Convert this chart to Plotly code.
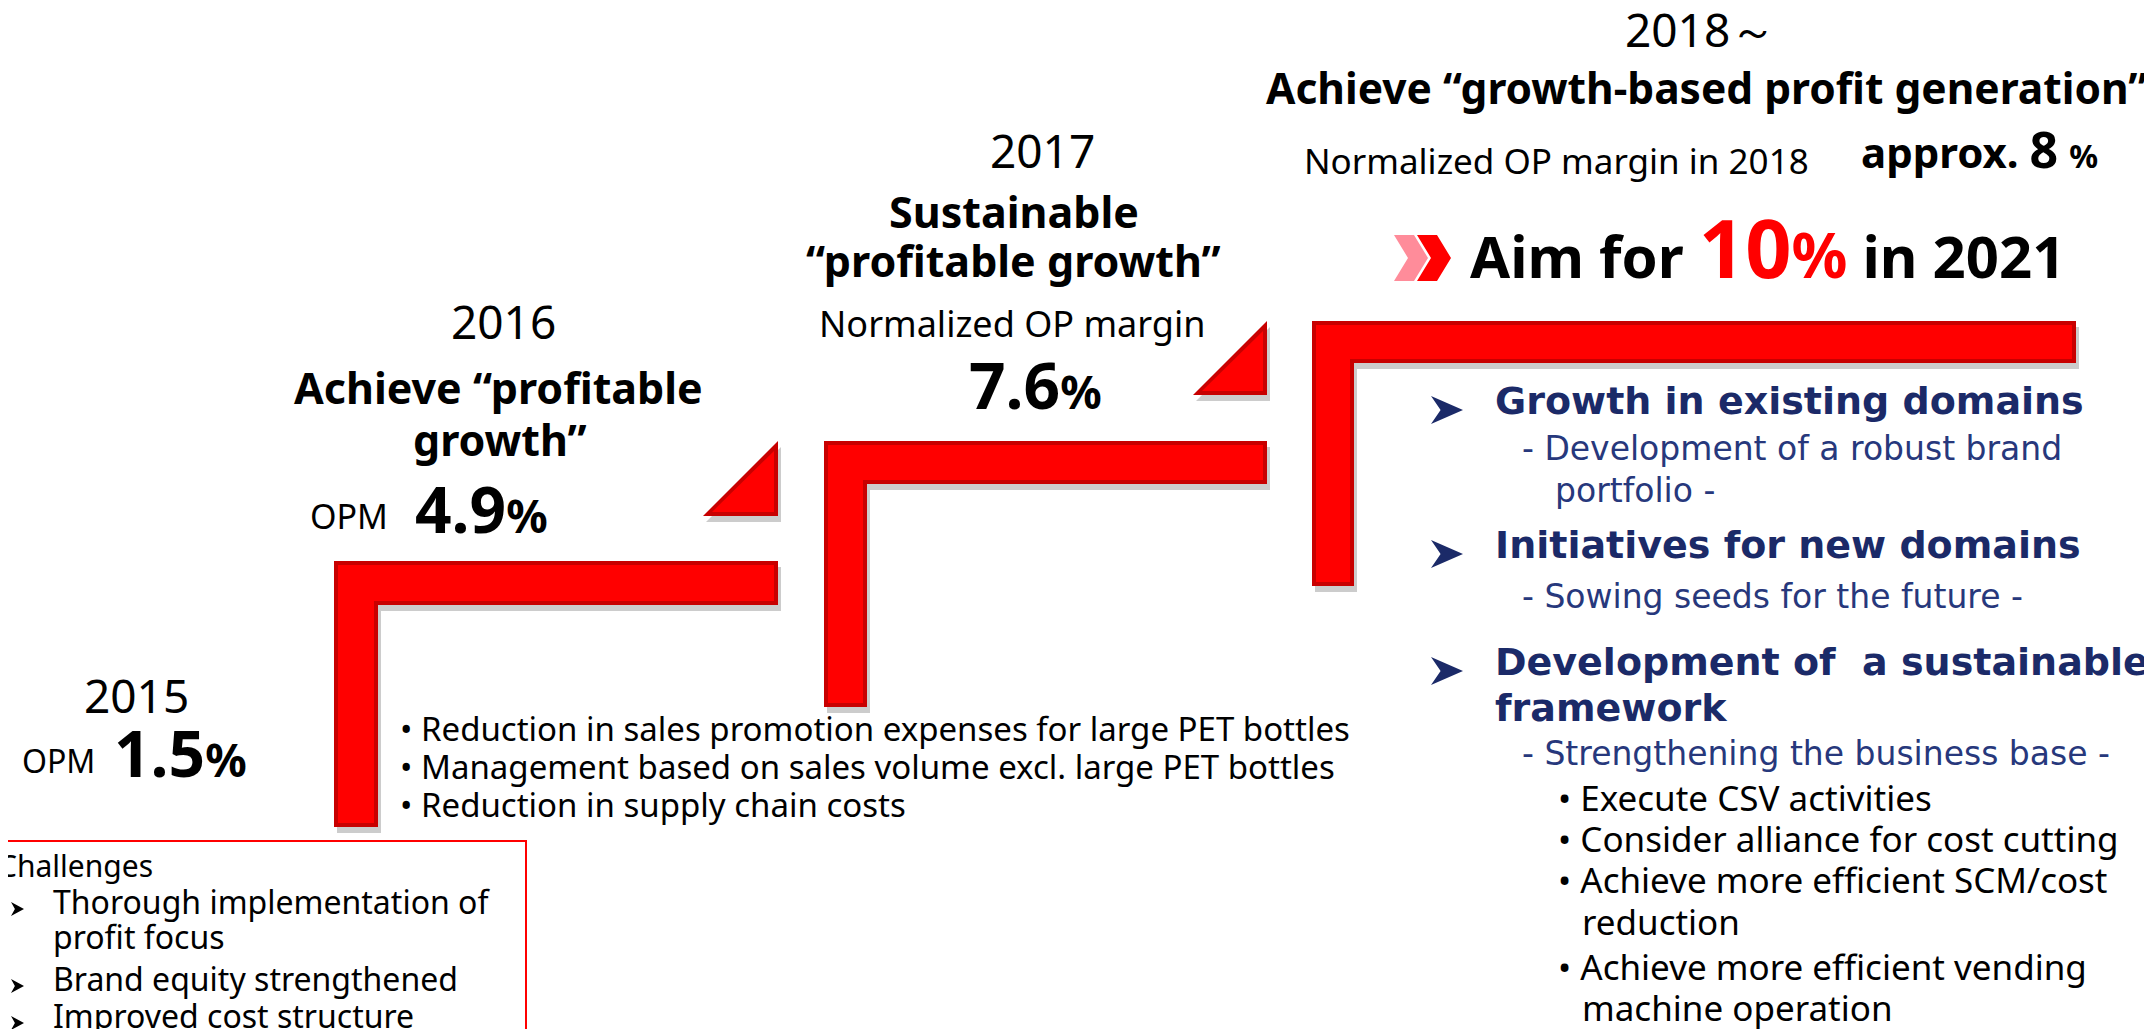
import plotly.graph_objects as go

W, H = 2152, 1029

# ---------------- data ----------------
years = ["2015", "2016", "2017", "2018～"]
margin_labels = ["OPM", "OPM", "Normalized OP margin", "Normalized OP margin in 2018"]
margin_values = ["1.5", "4.9", "7.6", "8"]
title_2016 = ["Achieve “profitable", "growth”"]
title_2017 = ["Sustainable", "“profitable growth”"]
title_2018 = "Achieve “growth-based profit generation”"
target_value = "10"
target_year = "2021"
measures_2016 = ["Reduction in sales promotion expenses for large PET bottles",
                 "Management based on sales volume excl. large PET bottles",
                 "Reduction in supply chain costs"]
challenges_title = "Challenges"
challenges = [["Thorough implementation of", "profit focus"], ["Brand equity strengthened"],
              ["Improved cost structure"]]
pillars = [["Growth in existing domains"], ["Initiatives for new domains"],
           ["Development of  a sustainable", "framework"]]
pillar_subs = [["- Development of a robust brand", "portfolio -"], ["- Sowing seeds for the future -"],
               ["- Strengthening the business base -"]]
framework_items = [["Execute CSV activities"], ["Consider alliance for cost cutting"],
                   ["Achieve more efficient SCM/cost", "reduction"],
                   ["Achieve more efficient vending", "machine operation"]]

# ---------------- styling / geometry ----------------
RED = "#FF0000"
DARKRED = "#C80000"
NAVY = "#1b2a68"
NAVY2 = "#27387c"
FONT = "Noto Sans"
HFONT = "DejaVu Sans"
K = 0.6  # baseline -> annotation middle offset factor

steps = [  # x0, x1, ytop, ybot, thickness
    (326, 770, 553, 819, 44),
    (816, 1259, 433, 699, 43),
    (1304, 2068, 313, 578, 42),
]
triangles = [(695, 770, 433, 508), (1185, 1259, 313, 387)]

fig = go.Figure()
fig.add_trace(go.Scatter(x=[0], y=[0], mode="markers", marker=dict(opacity=0), hoverinfo="skip",
                         showlegend=False))
shapes = []


def lpath(x0, x1, yt, yb, t, d=0):
    return (f"M {x0+d},{yt+d} L {x1-d},{yt+d} L {x1-d},{yt+t-d} L {x0+t-d},{yt+t-d} "
            f"L {x0+t-d},{yb-d} L {x0+d},{yb-d} Z")


for (x0, x1, yt, yb, t) in steps:
    shapes.append(dict(type="path", path=lpath(x0 + 3, x1 + 3, yt + 6, yb + 6, t),
                       fillcolor="rgba(0,0,0,0.20)", line=dict(width=0), layer="above"))
    shapes.append(dict(type="path", path=lpath(x0, x1, yt, yb, t), fillcolor=DARKRED,
                       line=dict(width=0), layer="above"))
    shapes.append(dict(type="path", path=lpath(x0, x1, yt, yb, t, 4), fillcolor=RED,
                       line=dict(width=0), layer="above"))

for (xa, xb, ya, yb) in triangles:
    shapes.append(dict(type="path", path=f"M {xa+3},{yb+6} L {xb+3},{yb+6} L {xb+3},{ya+6} Z",
                       fillcolor="rgba(0,0,0,0.20)", line=dict(width=0), layer="above"))
    shapes.append(dict(type="path", path=f"M {xa},{yb} L {xb},{yb} L {xb},{ya} Z",
                       fillcolor=DARKRED, line=dict(width=0), layer="above"))
    shapes.append(dict(type="path", path=f"M {xa+9},{yb-4} L {xb-4},{yb-4} L {xb-4},{ya+10} Z",
                       fillcolor=RED, line=dict(width=0), layer="above"))


def chevron(x, y0, y1, w, k, color):
    ym = (y0 + y1) / 2
    return dict(type="path",
                path=f"M {x},{y0} L {x+k},{y0} L {x+w},{ym} L {x+k},{y1} L {x},{y1} L {x+w-k},{ym} Z",
                fillcolor=color, line=dict(width=0), layer="above")


shapes.append(chevron(1386, 227, 273, 34, 20, "#FF8C9A"))
shapes.append(chevron(1409, 227, 273, 34, 20, "#FF0000"))


def arrowhead(x, yc, w, h, color):
    return dict(type="path",
                path=f"M {x},{yc-h/2} L {x+w},{yc} L {x},{yc+h/2} L {x+w*0.3},{yc} Z",
                fillcolor=color, line=dict(width=0), layer="above")


shapes.append(dict(type="rect", x0=-10, x1=518, y0=833, y1=1045, line=dict(color="#FF0000", width=2),
                   fillcolor="rgba(0,0,0,0)", layer="above"))

ann = []


def line(x, base, s, size, color="black", bold=False, family=FONT, xa="center", xshift=0):
    if bold:
        s = f"<b>{s}</b>"
    ann.append(dict(x=x, y=base - K * size, text=s, showarrow=False, xanchor=xa, yanchor="middle",
                    xshift=xshift, font=dict(size=size, color=color, family=family)))


def pct(val, vs, ps):
    return (f"<b><span style='font-size:{vs}px'>{val}</span>"
            f"<span style='font-size:{ps}px'>%</span></b>")


# 2015
line(128, 715, years[0], 46)
line(12, 772, margin_labels[0], 32, xa="left")
line(104, 772, pct(margin_values[0], 64, 46), 46, xa="left")
# 2016
line(495, 341, years[1], 46)
line(490, 405, title_2016[0], 43, bold=True)
line(492, 457, title_2016[1], 43, bold=True)
line(300, 528, margin_labels[1], 34, xa="left")
line(405, 528, pct(margin_values[1], 64, 46), 46, xa="left")
# 2017
line(1034, 170, years[2], 46)
line(1006, 229, title_2017[0], 43, bold=True)
line(1005, 278, title_2017[1], 43, bold=True)
line(1004, 337, margin_labels[2], 36)
line(1027, 404, pct(margin_values[2], 64, 46), 46)
# 2018~
line(1692, 49, years[3], 46)
line(1698, 105, title_2018, 42.5, bold=True)
line(1294, 173, margin_labels[3], 35, xa="left")
line(1851, 166, "<b>approx. <span style='font-size:50px'>" + margin_values[3] +
     "</span> <span style='font-size:32px'>%</span></b>", 42, xa="left")
line(1460, 273, f"<b>Aim for <span style='color:#FF0000'><span style='font-size:81px'>{target_value}</span>"
     f"<span style='font-size:62px'>%</span></span> in {target_year}</b>", 58, xa="left")

# 2016 measures
for i, m in enumerate(measures_2016):
    line(390, 740 + i * 38, "• " + m, 33, xa="left")

# Challenges
line(0, 875, challenges_title, 30, xa="left", xshift=-12)
cb = [[913, 948], [990], [1027]]
for lines_, bases in zip(challenges, cb):
    for t_, b in zip(lines_, bases):
        line(43, b, t_, 32, xa="left")
    shapes.append(arrowhead(3, bases[0] - 12, 13, 14, "black"))

# right panel
pb = [[416], [560], [677, 723]]
for lines_, bases in zip(pillars, pb):
    for t_, b in zip(lines_, bases):
        line(1485, b, t_, 38, color=NAVY, bold=True, family=HFONT, xa="left")
    shapes.append(arrowhead(1423, bases[0] - 14, 32, 28, NAVY))
sb = [[460, 502], [608], [765]]
for lines_, bases in zip(pillar_subs, sb):
    for j, (t_, b) in enumerate(zip(lines_, bases)):
        line(1512 if j == 0 else 1545, b, t_, 33, color=NAVY2, family=HFONT, xa="left")
fb = [[810], [851], [892, 934], [979, 1020]]
for lines_, bases in zip(framework_items, fb):
    for j, (t_, b) in enumerate(zip(lines_, bases)):
        if j == 0:
            line(1548, b, "• " + t_, 35, xa="left")
        else:
            line(1572, b, t_, 35, xa="left")

fig.update_layout(
    width=W, height=H, margin=dict(l=0, r=0, t=0, b=0),
    paper_bgcolor="white", plot_bgcolor="white",
    xaxis=dict(range=[0, W], visible=False, fixedrange=True),
    yaxis=dict(range=[H, 0], visible=False, fixedrange=True),
    shapes=shapes, annotations=ann, showlegend=False,
)
fig.write_html("out.html")
